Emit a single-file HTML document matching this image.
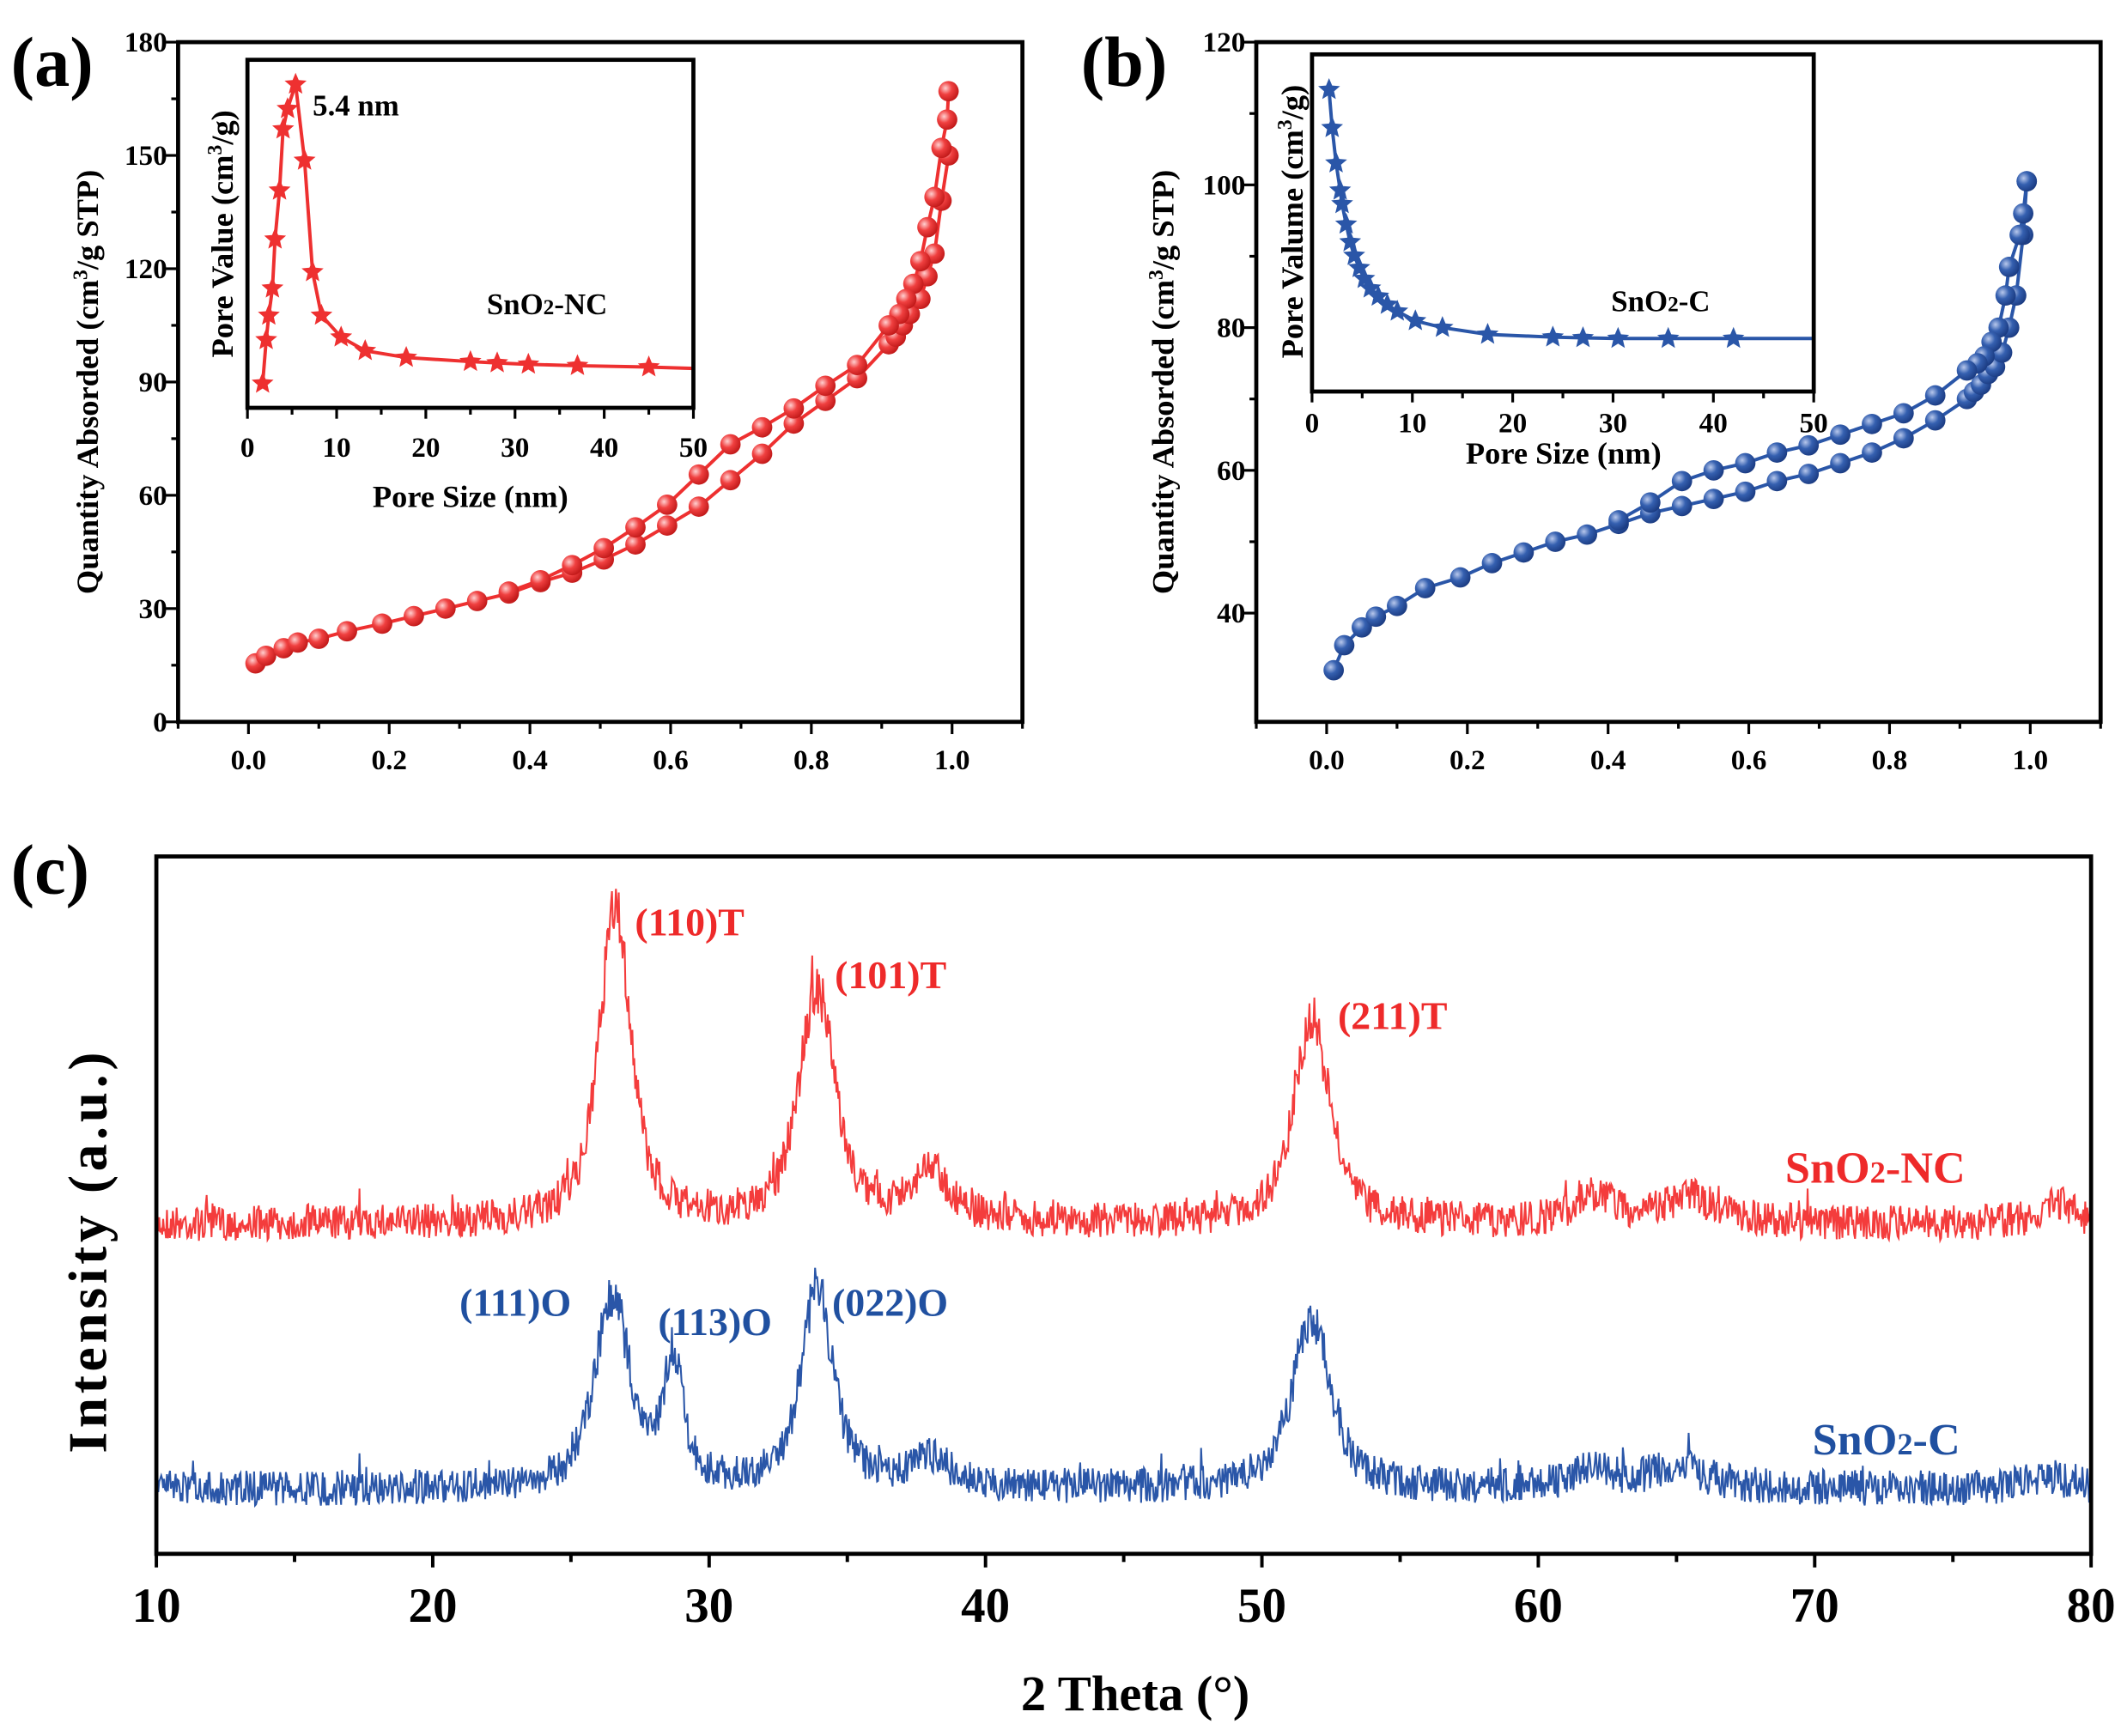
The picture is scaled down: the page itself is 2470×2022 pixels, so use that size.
<!DOCTYPE html>
<html><head><meta charset="utf-8"><style>
html,body{margin:0;padding:0;background:#fff}
svg{display:block}
text{font-family:"Liberation Serif",serif;font-weight:bold}
</style></head><body>
<svg id="s" width="2470" height="2022" viewBox="0 0 1560 1277" preserveAspectRatio="none" xmlns="http://www.w3.org/2000/svg">
<defs>
<radialGradient id="gr" cx="0.35" cy="0.35" r="0.7"><stop offset="0" stop-color="#ffd0d0"/><stop offset="0.45" stop-color="#f04040"/><stop offset="1" stop-color="#c01818"/></radialGradient>
<radialGradient id="gb" cx="0.35" cy="0.35" r="0.7"><stop offset="0" stop-color="#b8c8ec"/><stop offset="0.45" stop-color="#3560b0"/><stop offset="1" stop-color="#1a3a80"/></radialGradient>
</defs>
<g id="g"></g>
<text x="8" y="63" font-size="52">(a)</text>
<text x="795" y="63" font-size="52">(b)</text>
<text x="8" y="657" font-size="52">(c)</text>
<text transform="translate(72,281) rotate(-90)" font-size="23" text-anchor="middle">Quantity Absorded (cm<tspan dy="-8" font-size="15">3</tspan><tspan dy="8">/g STP)</tspan></text>
<text transform="translate(863,281) rotate(-90)" font-size="23" text-anchor="middle">Quantity Absorded (cm<tspan dy="-8" font-size="15">3</tspan><tspan dy="8">/g STP)</tspan></text>
<text transform="translate(171,172) rotate(-90)" font-size="23" text-anchor="middle">Pore Value (cm<tspan dy="-8" font-size="15">3</tspan><tspan dy="8">/g)</tspan></text>
<text transform="translate(958,163) rotate(-90)" font-size="23" text-anchor="middle">Pore Valume (cm<tspan dy="-8" font-size="15">3</tspan><tspan dy="8">/g)</tspan></text>
<text x="346" y="373" font-size="23" text-anchor="middle">Pore Size (nm)</text>
<text x="1150" y="341" font-size="23" text-anchor="middle">Pore Size (nm)</text>
<text x="230" y="85" font-size="22">5.4 nm</text>
<text x="358" y="231" font-size="22">SnO<tspan font-size="16">2</tspan>-NC</text>
<text x="1185" y="229" font-size="22">SnO<tspan font-size="16">2</tspan>-C</text>
<text x="835" y="1258" font-size="37" text-anchor="middle">2 Theta (°)</text>
<text transform="translate(78,920) rotate(-90)" font-size="40" text-anchor="middle" letter-spacing="3">Intensity (a.u.)</text>
<g fill="#ee2a2a" font-size="29">
<text x="467" y="688">(110)T</text><text x="614" y="727">(101)T</text><text x="984" y="757">(211)T</text>
<text x="1313" y="870" font-size="33">SnO<tspan font-size="23">2</tspan>-NC</text></g>
<g fill="#2050a0" font-size="29">
<text x="338" y="968">(111)O</text><text x="484" y="982">(113)O</text><text x="612" y="968">(022)O</text>
<text x="1333" y="1070" font-size="33">SnO<tspan font-size="23">2</tspan>-C</text></g>
</svg>
<script>
var g=document.getElementById('g'),h='';
function ln(x1,y1,x2,y2,w){h+='<line x1="'+x1+'" y1="'+y1+'" x2="'+x2+'" y2="'+y2+'" stroke="#000" stroke-width="'+(w||2)+'"/>';}
function tx(x,y,t,fs,anc){h+='<text x="'+x+'" y="'+y+'" font-size="'+fs+'" text-anchor="'+(anc||'middle')+'">'+t+'</text>';}
function frame(l,t,r,b,w){h+='<rect x="'+l+'" y="'+t+'" width="'+(r-l)+'" height="'+(b-t)+'" fill="none" stroke="#000" stroke-width="'+w+'"/>';}
function star(cx,cy,r,c){var p=[];for(var i=0;i<10;i++){var a=-Math.PI/2+i*Math.PI/5,rr=i%2?r*0.45:r;p.push((cx+rr*Math.cos(a)).toFixed(1)+','+(cy+rr*Math.sin(a)).toFixed(1));}h+='<polygon points="'+p.join(' ')+'" fill="'+c+'"/>';}
function poly(pts,c,w){h+='<polyline points="'+pts.map(function(p){return p[0].toFixed(1)+','+p[1].toFixed(1)}).join(' ')+'" fill="none" stroke="'+c+'" stroke-width="'+w+'" stroke-linejoin="round"/>';}
function iso(L,T,R,B,ymin,ymax,ytick,yst,ads,des,col,grad){
 var X=function(v){return L+(v+0.1)/1.2*(R-L)},Y=function(v){return B-(v-ymin)/(ymax-ymin)*(B-T)};
 poly(ads.map(function(p){return[X(p[0]),Y(p[1])]}),col,2.5);
 poly(des.map(function(p){return[X(p[0]),Y(p[1])]}),col,2.5);
 ads.concat(des).forEach(function(p){h+='<circle cx="'+X(p[0])+'" cy="'+Y(p[1])+'" r="7.5" fill="url(#'+grad+')"/>';});
 frame(L,T,R,B,3);
 for(var v=-0.1;v<=1.1001;v+=0.1){var x=X(v);ln(x,B,x,B+(Math.round(v*10)%2==0?9:5),2);}
 for(var v=0;v<=1.0001;v+=0.2)tx(X(v),B+35,v.toFixed(1),21);
 for(var v=ytick[0];v<=ymax+0.01;v+=yst/2){var y=Y(v);ln(L-((Math.round((v-ytick[0])/yst*2))%2==0?9:5),y,L,y,2);}
 for(var v=ytick[0];v<=ymax+0.01;v+=yst)tx(L-8,Y(v)+7,v,21,'end');
}
iso(131,31,752,531,0,180,[0],30,
[[.01,15.5],[.025,17.5],[.05,19.5],[.07,21],[.1,22],[.14,24],[.19,26],[.235,28],[.28,30],[.325,32],[.37,34],[.415,37],[.46,39.5],[.505,43],[.55,47],[.595,52],[.64,57],[.685,64],[.73,71],[.775,79],[.82,85],[.865,91],[.91,100],[.92,102],[.93,105],[.94,108],[.955,112],[.965,118],[.975,124],[.985,138],[.995,150]],
[[.995,167],[.993,159.5],[.985,152],[.975,139],[.965,131],[.955,122],[.945,116],[.935,112],[.925,108],[.91,105],[.865,94.5],[.82,89],[.775,83],[.73,78],[.685,73.5],[.64,65.5],[.595,57.5],[.55,51.5],[.505,46],[.46,41.5],[.415,37.5],[.37,34.5]],'#ee3030','gr');
iso(924,31,1545,531,24.76,120,[40],20,
[[.01,32],[.025,35.5],[.05,38],[.07,39.5],[.1,41],[.14,43.5],[.19,45],[.235,47],[.28,48.5],[.325,50],[.37,51],[.415,52.5],[.46,54],[.505,55],[.55,56],[.595,57],[.64,58.5],[.685,59.5],[.73,61],[.775,62.5],[.82,64.5],[.865,67],[.91,70],[.92,71],[.93,72],[.94,73.5],[.95,74.5],[.96,76.5],[.97,80],[.98,84.5],[.99,93],[.995,100.5]],
[[.995,100.5],[.99,96],[.985,93],[.97,88.5],[.965,84.5],[.955,80],[.945,78],[.935,76],[.925,75],[.91,74],[.865,70.5],[.82,68],[.775,66.5],[.73,65],[.685,63.5],[.64,62.5],[.595,61],[.55,60],[.505,58.5],[.46,55.5],[.415,53]],'#2a56a8','gb');
function inset(L,T,R,B,pts,col){
 h+='<rect x="'+L+'" y="'+T+'" width="'+(R-L)+'" height="'+(B-T)+'" fill="#fff"/>';
 var X=function(v){return L+v/50*(R-L)};
 var P=pts.map(function(p){return[X(p[0]),p[1]]});
 poly(P,col,2.5);
 P.forEach(function(p,i){if(i<P.length-1)star(p[0],p[1],8.5,col);});
 frame(L,T,R,B,3);
 for(var v=0;v<=50;v+=5){var x=X(v);ln(x,B,x,B+(v%10==0?8:5),2);}
 for(var v=0;v<=50;v+=10)tx(X(v),B+(B>295?36:30),v,21);
}
inset(182,44,510,300,[[1.7,282],[2.1,250],[2.4,232],[2.8,212],[3.1,176],[3.6,140],[4.0,95],[4.5,80],[5.4,62],[6.4,118],[7.3,200],[8.3,232],[10.5,248],[13.2,258],[17.8,263],[25,266],[28,267],[31.5,268],[37,269],[45,270],[50,271]],'#ee3030');
inset(965,40,1334,288,[[1.7,66],[2.0,94],[2.4,120],[2.8,140],[3.0,150],[3.4,165],[3.8,178],[4.2,188],[4.7,197],[5.2,205],[5.8,212],[6.6,218],[7.5,224],[8.5,229],[10.3,236],[13,241],[17.5,246],[24,248],[27,248.5],[30.5,249],[35.5,249],[42,249],[50,249]],'#2a56a8');
var L=115,R=1538,T=630,B=1143,X=function(v){return L+(v-10)/70*(R-L)};
var seed=7;function rnd(){seed=(seed*16807)%2147483647;return seed/2147483647;}
function lor(x,c,w,a){var d=(x-c)/w;return a/(1+d*d);}
function xrd(base,peaks,col,noise){
 var pts=[];for(var t=10;t<=80;t+=0.035){var v=0;peaks.forEach(function(p){v+=lor(t,p[0],p[1],p[2])+ (p[3]?p[3]*Math.exp(-Math.pow((t-p[0])/p[1],2)):0);});
 var n=(rnd()-0.5)*noise*(1+ v/400)+ (rnd()<0.03?-(rnd()*noise*0.6):0);
 pts.push([X(t),base-v+n-noise*0.1]);}
 h+='<polyline points="'+pts.map(function(p){return p[0].toFixed(1)+','+p[1].toFixed(1)}).join(' ')+'" fill="none" stroke="'+col+'" stroke-width="1.3"/>';
}
xrd(903,[[26.6,0.75,150,80],[33.9,0.85,110,60],[38,0.8,38,0],[51.8,0.85,100,50],[62,0.8,20,0],[65.5,1.2,18,0],[78.8,0.8,14,0]],'#f43c3c',26);
xrd(1098,[[26.5,0.8,100,40],[28.7,0.45,70,20],[33.9,0.75,105,40],[38,0.8,22,0],[51.8,0.9,85,40],[62,0.8,14,0],[65,1.2,16,0],[78.5,1,8,0]],'#2a56a8',26);
frame(L,T,R,B,3);
for(var v=10;v<=80;v+=5){var x=X(v);ln(x,B,x,B+(v%10==0?10:6),2.5);}
for(var v=10;v<=80;v+=10)tx(X(v),B+50,v,36);
g.innerHTML=h;
</script>
</body></html>
